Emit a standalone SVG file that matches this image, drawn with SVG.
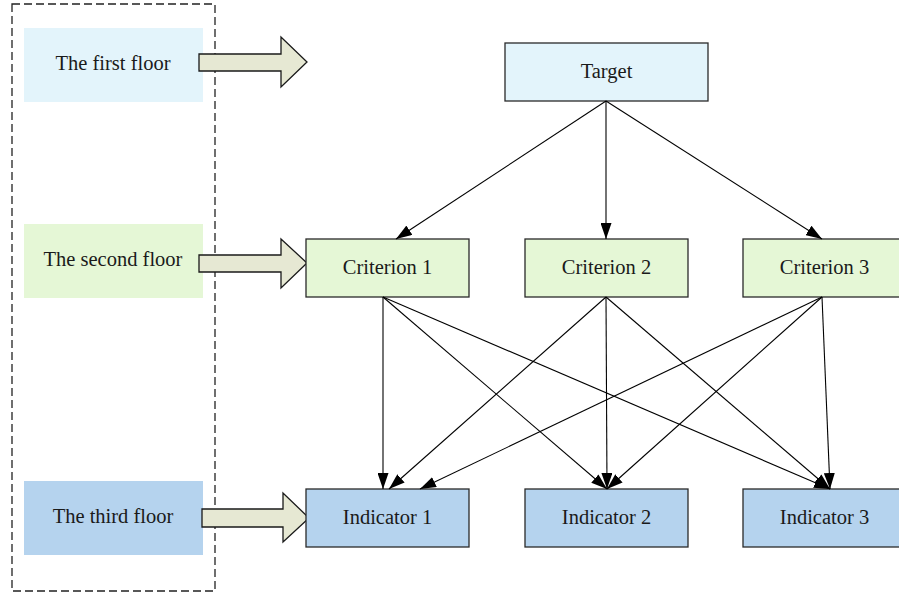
<svg xmlns="http://www.w3.org/2000/svg" width="899" height="597" viewBox="0 0 899 597">
  <style>
    .lbl { font-family: "Liberation Serif", "DejaVu Serif", serif; font-size: 20.5px; fill: #1a1a1a; text-anchor: middle; }
    .box { stroke: #2a2a2a; stroke-width: 1.3; }
    .tgt { fill: #e3f4fb; }
    .crit { fill: #e5f7d6; }
    .ind { fill: #b5d3ee; }
    .floor { stroke: none; }
    .big { fill: #e6e8d3; stroke: #1a1a1a; stroke-width: 1.3; stroke-linejoin: miter; }
    .edge { stroke: #000; stroke-width: 1.1; fill: none; marker-end: url(#ah); }
  </style>
  <defs>
    <marker id="ah" viewBox="0 0 16 11" refX="16" refY="5.5" markerWidth="16" markerHeight="11" markerUnits="userSpaceOnUse" orient="auto">
      <path d="M0,0 L16,5.5 L0,11 Z" fill="#000"/>
    </marker>
  </defs>

  <rect width="899" height="597" fill="#fff"/>

  <!-- dashed frame around the level labels -->
  <rect x="12" y="4" width="203" height="587" fill="none" stroke="#222" stroke-width="1.3" stroke-dasharray="8,4"/>

  <!-- level labels -->
  <g id="floor1">
    <rect class="floor tgt" x="24" y="28" width="179" height="74"/>
    <text class="lbl" x="113" y="70">The first floor</text>
  </g>
  <g id="floor2">
    <rect class="floor crit" x="24" y="224" width="179" height="74"/>
    <text class="lbl" x="113" y="266">The second floor</text>
  </g>
  <g id="floor3">
    <rect class="floor ind" x="24" y="481" width="179" height="74"/>
    <text class="lbl" x="113" y="523">The third floor</text>
  </g>

  <!-- block arrows from the labels to the levels -->
  <g id="level-arrows">
    <path class="big" d="M199,54 L281,54 L281,37 L307,62 L281,87 L281,71 L199,71 Z"/>
    <path class="big" d="M199,255 L281,255 L281,239 L307,263 L281,288 L281,272 L199,272 Z"/>
    <path class="big" d="M202,509 L283,509 L283,493 L309,518 L283,542 L283,527 L202,527 Z"/>
  </g>

  <!-- hierarchy nodes -->
  <g id="target">
    <rect class="box tgt" x="505" y="43" width="203" height="58"/>
    <text class="lbl" x="606.5" y="78">Target</text>
  </g>
  <g id="criterion1">
    <rect class="box crit" x="306" y="239" width="163" height="58"/>
    <text class="lbl" x="387.5" y="274">Criterion 1</text>
  </g>
  <g id="criterion2">
    <rect class="box crit" x="525" y="239" width="163" height="58"/>
    <text class="lbl" x="606.5" y="274">Criterion 2</text>
  </g>
  <g id="criterion3">
    <rect class="box crit" x="743" y="239" width="163" height="58"/>
    <text class="lbl" x="824.5" y="274">Criterion 3</text>
  </g>
  <g id="indicator1">
    <rect class="box ind" x="306" y="489" width="163" height="58"/>
    <text class="lbl" x="387.5" y="524">Indicator 1</text>
  </g>
  <g id="indicator2">
    <rect class="box ind" x="525" y="489" width="163" height="58"/>
    <text class="lbl" x="606.5" y="524">Indicator 2</text>
  </g>
  <g id="indicator3">
    <rect class="box ind" x="743" y="489" width="163" height="58"/>
    <text class="lbl" x="824.5" y="524">Indicator 3</text>
  </g>

  <!-- connectors -->
  <g id="connectors">
    <line class="edge" x1="606" y1="101" x2="396" y2="239"/>
    <line class="edge" x1="606" y1="101" x2="606" y2="239"/>
    <line class="edge" x1="606" y1="101" x2="822" y2="239"/>

    <line class="edge" x1="383" y1="297" x2="383" y2="489"/>
    <line class="edge" x1="383" y1="297" x2="607" y2="489"/>
    <line class="edge" x1="383" y1="297" x2="830" y2="489"/>

    <line class="edge" x1="606" y1="297" x2="389" y2="489"/>
    <line class="edge" x1="606" y1="297" x2="607" y2="489"/>
    <line class="edge" x1="606" y1="297" x2="830" y2="489"/>

    <line class="edge" x1="822" y1="297" x2="420" y2="489"/>
    <line class="edge" x1="822" y1="297" x2="607" y2="489"/>
    <line class="edge" x1="822" y1="297" x2="830" y2="489"/>
  </g>
</svg>
